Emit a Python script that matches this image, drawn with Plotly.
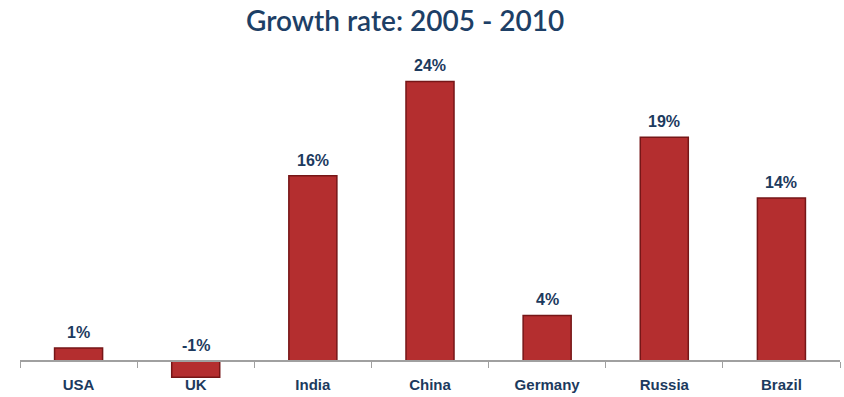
import plotly.graph_objects as go

categories = ["USA", "UK", "India", "China", "Germany", "Russia", "Brazil"]
growth = [1.1, -1.4, 15.9, 24.0, 3.9, 19.2, 14.0]
labels = ["1%", "-1%", "16%", "24%", "4%", "19%", "14%"]

NAVY = "#1c3a5e"
BAR = "#b42e2f"
EDGE = "#761617"

fig = go.Figure()
fig.add_trace(go.Bar(
    x=categories, y=growth,
    marker=dict(color=BAR, line=dict(color=EDGE, width=1.5)),
    hoverinfo="x+y",
))

for c, v, t in zip(categories, growth, labels):
    fig.add_annotation(
        x=c, y=max(v, 0), text=f"<b>{t}</b>", showarrow=False,
        yanchor="bottom", yshift=5,
        font=dict(family="Liberation Sans, Arial", size=16, color=NAVY),
    )

ymin, ymax = -2.5, 25.5
fig.update_layout(
    width=844, height=397,
    margin=dict(l=20, r=4, t=63.5, b=6.8),
    paper_bgcolor="white", plot_bgcolor="white",
    bargap=0.59,
    showlegend=False,
    title=dict(
        text="Growth rate: 2005 - 2010",
        x=0.48, xanchor="center", xref="container",
        y=1 - 21 / 397, yanchor="middle", yref="container",
        font=dict(family="Lato, Open Sans, sans-serif", size=28, color="#1d3f66", weight=600),
    ),
    xaxis=dict(
        anchor="free", position=(0 - ymin) / (ymax - ymin),
        showline=True, linecolor="#a0a0a0", linewidth=1.5,
        ticks="outside", tickson="boundaries", ticklen=6, tickcolor="#a0a0a0",
        ticklabelstandoff=10,
        tickfont=dict(family="Liberation Sans, Arial", size=15, color=NAVY, weight="bold"),
        showgrid=False, zeroline=False,
    ),
    yaxis=dict(
        range=[ymin, ymax], visible=False, showgrid=False, zeroline=False,
    ),
)

fig.write_html("out.html")
